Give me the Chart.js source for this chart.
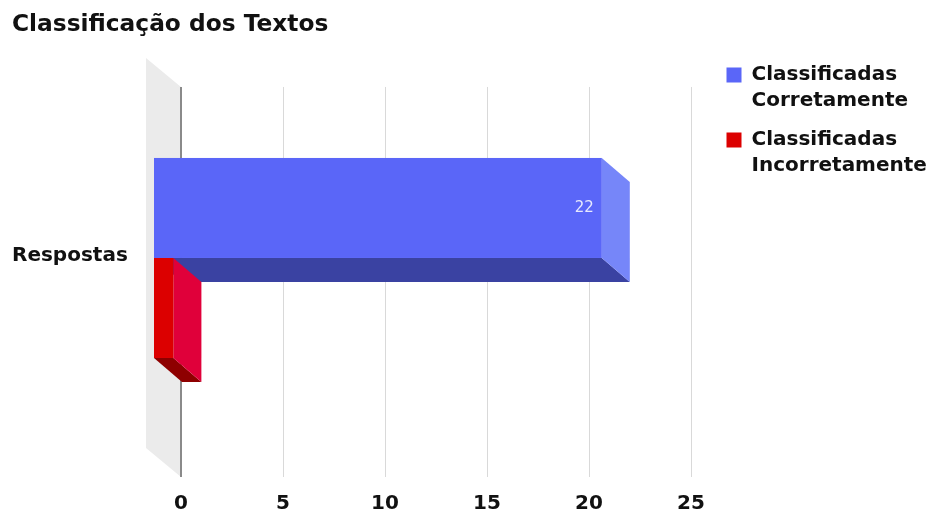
<!DOCTYPE html>
<html>
<head>
<meta charset="utf-8">
<script src="https://cdn.jsdelivr.net/npm/chart.js@4.4.1/dist/chart.umd.min.js"></script>
<style>
  html, body { margin: 0; padding: 0; background: #fff; overflow: hidden; }
  #wrap { width: 931px; height: 515px; }
</style>
</head>
<body>
<div id="wrap"><canvas id="grafico"></canvas></div>
<script>
const categorias = ['Respostas'];
const series = ['Classificadas Corretamente', 'Classificadas Incorretamente'];
const corretas = [22];
const incorretas = [1];
const ticksX = [0, 5, 10, 15, 20, 25];

// cores de cada barra: face da frente, lateral e base
const cores = [
  { frente: '#5a66f8', lado: '#7686f9', base: '#3a42a2' },
  { frente: '#dc0000', lado: '#e0003a', base: '#8e0000' }
];

const FONTE = '"DejaVu Sans", sans-serif';
Chart.defaults.font.family = FONTE;
Chart.defaults.color = '#111';

// profundidade do efeito 3D (barras e parede do eixo zero)
const DX = 28, DY = 24;
const WX = 35, WY = 29;

function poligono(ctx, cor, pts) {
  ctx.fillStyle = cor;
  ctx.beginPath();
  ctx.moveTo(pts[0][0], pts[0][1]);
  for (let i = 1; i < pts.length; i++) ctx.lineTo(pts[i][0], pts[i][1]);
  ctx.closePath();
  ctx.fill();
}

const barras3d = {
  id: 'barras3d',
  beforeDraw(chart) {
    const { ctx, chartArea: a, scales: { x } } = chart;
    const x0 = x.getPixelForValue(0);
    ctx.save();
    poligono(ctx, '#ebebeb', [
      [x0 - WX, a.top - WY], [x0, a.top], [x0, a.bottom], [x0 - WX, a.bottom - WY]
    ]);
    ctx.restore();
  },
  beforeDatasetsDraw(chart) {
    const ctx = chart.ctx;
    ctx.save();
    chart.data.datasets.forEach((ds, i) => {
      const meta = chart.getDatasetMeta(i);
      if (meta.hidden) return;
      const c = cores[i];
      meta.data.forEach((bar, j) => {
        const { x, y, base, height } = bar.getProps(['x', 'y', 'base', 'height'], true);
        const t = y - height / 2, b = y + height / 2;
        poligono(ctx, c.base, [[base - DX, b - DY], [x - DX, b - DY], [x, b], [base, b]]);
        poligono(ctx, c.lado, [[x - DX, t - DY], [x, t], [x, b], [x - DX, b - DY]]);
        ctx.fillStyle = c.frente;
        ctx.fillRect(base - DX, t - DY, x - base, height);

        const txt = String(ds.data[j]);
        ctx.font = '15px ' + FONTE;
        const w = ctx.measureText(txt).width;
        if (x - base > w + 16) {
          ctx.fillStyle = 'rgba(255,255,255,0.85)';
          ctx.textAlign = 'right';
          ctx.textBaseline = 'middle';
          ctx.fillText(txt, x - DX - 8, y - DY);
        }
      });
    });
    ctx.restore();
    return false;
  }
};

new Chart(document.getElementById('grafico'), {
  type: 'bar',
  data: {
    labels: categorias,
    datasets: [
      { label: series[0], data: corretas, backgroundColor: cores[0].frente, borderWidth: 0,
        categoryPercentage: 200 / 390, barPercentage: 1 },
      { label: series[1], data: incorretas, backgroundColor: cores[1].frente, borderWidth: 0,
        categoryPercentage: 200 / 390, barPercentage: 1 }
    ]
  },
  options: {
    indexAxis: 'y',
    responsive: true,
    maintainAspectRatio: false,
    animation: false,
    events: [],
    layout: { padding: { left: 12, right: 0, top: 0, bottom: 1 } },
    scales: {
      x: {
        min: 0, max: 25,
        afterBuildTicks: s => { s.ticks = ticksX.map(v => ({ value: v })); },
        afterFit: s => { s.height = 37; },
        border: { display: false },
        grid: {
          drawTicks: false,
          color: c => (c.tick && c.tick.value === 0 ? '#8a8a8a' : '#d9d9d9'),
          lineWidth: c => (c.tick && c.tick.value === 0 ? 2 : 1)
        },
        ticks: { padding: 17, color: '#111', font: { size: 20, weight: 'bold', lineHeight: 1 } }
      },
      y: {
        position: 'left',
        border: { display: false },
        grid: { display: false },
        ticks: { crossAlign: 'far', labelOffset: -26, padding: 0, color: '#111',
                 font: { size: 20, weight: 'bold' } },
        afterFit: s => { s.width = 169; }
      },
      // eixo vazio que só abre espaço entre a área do gráfico e a legenda
      y2: {
        type: 'linear',
        position: 'right',
        border: { display: false },
        grid: { display: false },
        ticks: { display: false },
        afterFit: s => { s.width = 22.5; }
      }
    },
    plugins: {
      tooltip: { enabled: false },
      title: {
        display: true,
        text: 'Classificação dos Textos',
        align: 'start',
        color: '#111',
        font: { size: 23.3, weight: 'bold' },
        padding: { top: 11, bottom: 48 }
      },
      legend: {
        position: 'right',
        align: 'start',
        maxWidth: 217.5,
        title: { display: true, text: ' ', font: { size: 10, lineHeight: 1 }, padding: { top: 0, bottom: 42 } },
        labels: {
          boxWidth: 15,
          boxHeight: 15,
          padding: 13,
          color: '#111',
          font: { size: 20, weight: 'bold', lineHeight: 1.3 },
          generateLabels: chart => Chart.defaults.plugins.legend.labels.generateLabels(chart)
            .map(it => Object.assign(it, { text: it.text.split(' ') }))
        }
      }
    }
  },
  plugins: [barras3d]
});
</script>
</body>
</html>
